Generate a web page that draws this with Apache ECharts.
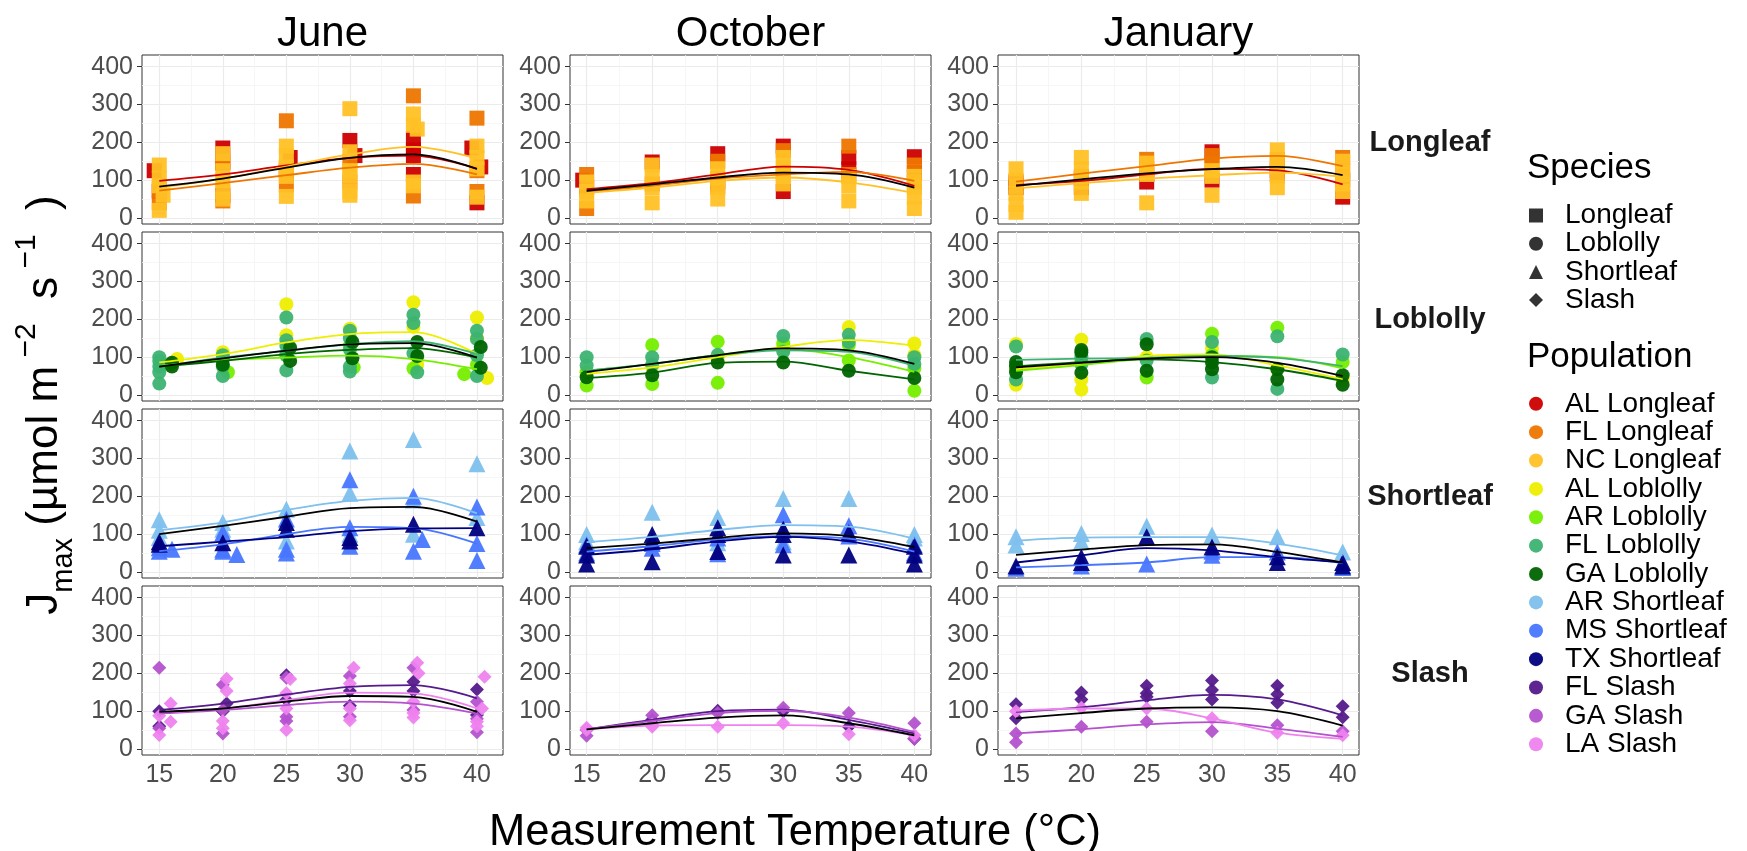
<!DOCTYPE html>
<html>
<head>
<meta charset="utf-8">
<title>Jmax by measurement temperature</title>
<script src="https://cdn.jsdelivr.net/npm/echarts@6.0.0/dist/echarts.min.js"></script>
<style>
  html, body { margin: 0; padding: 0; background: #fff; }
  #chart { width: 1747px; height: 851px; }
</style>
</head>
<body>
<div id="chart"></div>
<script>
const FONT = '"Liberation Sans", Arial, sans-serif';

// ---- data -------------------------------------------------------------
const temps = [15, 20, 25, 30, 35, 40];
const months = ['June', 'October', 'January'];
const species = ['Longleaf', 'Loblolly', 'Shortleaf', 'Slash'];
const yTicks = [0, 100, 200, 300, 400];

const longleafPops = ['AL Longleaf', 'FL Longleaf', 'NC Longleaf'];
const loblollyPops = ['AL Loblolly', 'AR Loblolly', 'FL Loblolly', 'GA Loblolly'];
const shortleafPops = ['AR Shortleaf', 'MS Shortleaf', 'TX Shortleaf'];
const slashPops = ['FL Slash', 'GA Slash', 'LA Slash'];

const longleafColors = ['#CD0000', '#EE7600', '#FFC125'];
const loblollyColors = ['#EEEE00', '#76EE00', '#3CB371', '#006400'];
const shortleafColors = ['#7EC0EE', '#4876FF', '#000080'];
const slashColors = ['#551A8B', '#B452CD', '#EE82EE'];

// points: [population index, temperature (jittered), Jmax]
const ptsJuneLongleaf = [
  [0,14.6,125],[0,15,70],[0,20,185],[0,20,145],[0,20,60],[0,25.3,160],[0,25,125],[0,30,205],[0,30.4,165],
  [0,35,210],[0,35,180],[0,35,165],[0,35,115],[0,39.6,185],[0,40.3,135],[0,40,40],
  [1,15,40],[1,15,75],[1,20,150],[1,20,45],[1,25,257],[1,25,87],[1,25,130],[1,30,95],[1,30,150],
  [1,35,323],[1,35,58],[1,40,264],[1,40,70],[1,40,125],
  [2,15,140],[2,15,105],[2,15.3,60],[2,15,20],[2,15,85],[2,20,170],[2,20,125],[2,20,100],[2,20,70],[2,20,50],
  [2,25,190],[2,25,165],[2,25,135],[2,25,110],[2,25,57],[2,30,289],[2,30,175],[2,30,125],[2,30,110],[2,30,70],[2,30,60],
  [2,35,275],[2,35,245],[2,35.3,235],[2,35,85],[2,35,95],[2,40,190],[2,40,160],[2,40,130],[2,40,55]
];
const ptsOctLongleaf = [
  [0,14.7,100],[0,15,80],[0,20,148],[0,25,170],[0,25,95],[0,30,190],[0,30,70],[0,35,160],[0,35,130],[0,40,162],[0,40,120],
  [1,15,115],[1,15,25],[1,20,90],[1,25,150],[1,25,85],[1,30,178],[1,30,120],[1,35,190],[1,35,115],[1,40,140],[1,40,95],
  [2,15,95],[2,15,70],[2,15,45],[2,20,140],[2,20,110],[2,20,80],[2,20,40],[2,25,130],[2,25,105],[2,25,80],[2,25,50],
  [2,30,160],[2,30,135],[2,30,110],[2,30,90],[2,35,110],[2,35,85],[2,35,45],[2,40,110],[2,40,80],[2,40,55],[2,40,25]
];
const ptsJanLongleaf = [
  [0,15,95],[0,15,80],[0,20,105],[0,20,80],[0,25,115],[0,25,95],[0,30,175],[0,30,100],[0,35,115],[0,35,125],[0,40,55],[0,40,100],
  [1,15,85],[1,20,110],[1,25,155],[1,25,130],[1,30,165],[1,30,145],[1,35,155],[1,35,140],[1,40,160],[1,40,125],
  [2,15,130],[2,15,100],[2,15,65],[2,15,35],[2,15,15],[2,20,160],[2,20,130],[2,20,95],[2,20,65],[2,25,145],[2,25,115],[2,25,40],
  [2,30,125],[2,30,110],[2,30,60],[2,35,180],[2,35,150],[2,35,110],[2,35,80],[2,40,150],[2,40,115],[2,40,90],[2,40,70]
];

const ptsJuneLoblolly = [
  [0,16.4,95],[0,20,113],[0,25,240],[0,25,158],[0,30,175],[0,35,245],[0,35,180],[0,35.3,80],[0,40,205],[0,40.8,45],[0,40,150],
  [1,15.8,80],[1,20.4,60],[1,25,105],[1,30.3,73],[1,30,130],[1,35,70],[1,39,55],[1,40,80],
  [2,15,100],[2,15,90],[2,15,75],[2,15,60],[2,15,30],[2,20,105],[2,20,95],[2,20,75],[2,20,50],
  [2,25,205],[2,25,145],[2,25,130],[2,25,105],[2,25,65],[2,30,170],[2,30,150],[2,30,120],[2,30,75],[2,30,62],
  [2,35,212],[2,35,190],[2,35,110],[2,35.3,60],[2,40,170],[2,40,148],[2,40,105],[2,40,50],
  [3,16,85],[3,16,75],[3,20,80],[3,25.3,125],[3,25.3,90],[3,30.2,140],[3,30.2,97],[3,35.3,140],[3,35.3,103],[3,40.3,127],[3,40.3,72]
];
const ptsOctLoblolly = [
  [0,15,60],[0,20,75],[0,25,100],[0,30,130],[0,35,180],[0,40,136],[0,40,106],
  [1,15,25],[1,15,60],[1,20,132],[1,20,29],[1,25,141],[1,25,32],[1,30,136],[1,30,120],[1,35,132],[1,35,91],[1,40,11],[1,40,70],
  [2,15,100],[2,15,78],[2,20,100],[2,20,80],[2,25,106],[2,30,156],[2,30,114],[2,35,159],[2,35,140],[2,40,100],[2,40,82],
  [3,15,47],[3,20,52],[3,25,86],[3,30,86],[3,35,64],[3,40,45]
];
const ptsJanLoblolly = [
  [0,15,135],[0,15,27],[0,20,146],[0,20,41],[0,20,14],[0,25,100],[0,30,123],[0,35,70],[0,40,41],
  [1,15,70],[1,20,90],[1,25,46],[1,30,162],[1,30,105],[1,35,178],[1,40,87],
  [2,15,128],[2,15,41],[2,20,100],[2,20,82],[2,25,148],[2,25,91],[2,30,140],[2,30,46],[2,35,155],[2,35,16],[2,40,107],
  [3,15,87],[3,15,76],[3,15,60],[3,20,119],[3,20,112],[3,20,59],[3,25,134],[3,25,64],[3,30,100],[3,30,68],[3,30,85],
  [3,35,68],[3,35,41],[3,40,52],[3,40,27]
];

const ptsJuneShortleaf = [
  [0,15,138],[0,15,91],[0,15,110],[0,20,131],[0,20,113],[0,25,166],[0,25,82],[0,30,320],[0,30,208],[0,30,100],
  [0,35,350],[0,35,100],[0,35,190],[0,40,286],[0,40,144],
  [1,15,64],[1,15,55],[1,16,60],[1,20,104],[1,20,55],[1,21.1,46],[1,20,60],[1,25,140],[1,25,60],[1,25,50],
  [1,30,244],[1,30,117],[1,30,68],[1,35,200],[1,35.7,86],[1,35,55],[1,40,172],[1,40,75],[1,40,30],
  [2,15,73],[2,15,80],[2,20,77],[2,25,113],[2,25,131],[2,30,91],[2,30,82],[2,35,126],[2,40,117]
];
const ptsOctShortleaf = [
  [0,15,99],[0,15,80],[0,20,158],[0,20,85],[0,25,144],[0,25,77],[0,30,194],[0,30,110],[0,30,80],[0,35,194],[0,40,99],[0,40,90],
  [1,15,72],[1,15,50],[1,20,63],[1,20,75],[1,25,90],[1,25,48],[1,30,151],[1,30,72],[1,35,122],[1,35,95],[1,40,72],[1,40,50],
  [2,15,68],[2,15,45],[2,15,21],[2,20,99],[2,20,81],[2,20,27],[2,25,117],[2,25,99],[2,25,54],[2,30,113],[2,30,99],[2,30,45],
  [2,35,104],[2,35,45],[2,40,68],[2,40,45],[2,40,21]
];
const ptsJanShortleaf = [
  [0,15,93],[0,15,71],[0,20,102],[0,20,80],[0,25,121],[0,30,98],[0,35,93],[0,40,53],
  [1,15,10],[1,20,16],[1,25,21],[1,30,44],[1,30,55],[1,35,53],[1,40,12],
  [2,15,16],[2,20,39],[2,20,25],[2,25,93],[2,30,66],[2,35,25],[2,35,40],[2,40,16],[2,40,25]
];

const ptsJuneSlash = [
  [0,15,100],[0,15,60],[0,20,100],[0,20.3,120],[0,25,195],[0,25,130],[0,30,153],[0,30,114],[0,35,178],[0,35,153],[0,40,157],[0,40,90],
  [1,15,215],[1,15,55],[1,20,170],[1,20,103],[1,20,41],[1,25,188],[1,25,85],[1,25,74],[1,30,193],[1,30,85],
  [1,35,215],[1,35,103],[1,40,125],[1,40,44],[1,40,80],
  [2,15,88],[2,15,37],[2,15.9,120],[2,15.9,72],[2,20.3,186],[2,20.3,153],[2,20,74],[2,20,55],[2,25.3,185],[2,25,147],[2,25,107],[2,25,50],
  [2,30.3,215],[2,30,173],[2,30,107],[2,30,76],[2,35.3,228],[2,35.4,200],[2,35,125],[2,35,83],[2,35,95],[2,40.6,191],[2,40.4,107],[2,40,72],[2,40,60]
];
const ptsOctSlash = [
  [0,15,50],[0,20,77],[0,25,101],[0,30,100],[0,35,59],[0,40,27],
  [1,15,35],[1,20,89],[1,25,95],[1,30,109],[1,35,95],[1,40,68],[1,40,27],
  [2,15,56],[2,15,50],[2,20,59],[2,20,65],[2,25,59],[2,30,68],[2,35,39],[2,40,36]
];
const ptsJanSlash = [
  [0,15,118],[0,15,81],[0,20,149],[0,20,131],[0,25,167],[0,25,147],[0,25,138],[0,30,181],[0,30,156],[0,30,131],
  [0,35,167],[0,35,145],[0,35,122],[0,40,113],[0,40,84],
  [1,15,41],[1,15,18],[1,20,59],[1,25,72],[1,30,47],[1,35,63],[1,40,47],
  [2,15,100],[2,20,109],[2,25,107],[2,30,81],[2,35,43],[2,40,36]
];

// smooth fits at 15..40 C, one row per population, last row = all populations (black)
const fitJuneLongleaf = [[98,115,139,159,165,130],[72,92,113,133,143,115],[80,104,136,168,188,157],[83,104,133,159,168,130]];
const fitOctLongleaf = [[76,92,115,136,127,85],[69,85,104,115,122,98],[66,80,98,107,94,66],[72,89,107,120,115,80]];
const fitJanLongleaf = [[87,98,115,130,126,89],[96,117,137,157,164,137],[78,92,104,113,120,109],[85,102,118,129,135,113]];

const fitJuneLoblolly = [[86,108,139,161,166,108],[77,92,99,104,95,68],[75,99,117,134,142,108],[75,90,108,119,124,99],[75,97,117,134,137,99]];
const fitOctLoblolly = [[56,73,100,127,145,130],[64,82,106,121,100,61],[64,82,105,118,114,77],[45,59,85,88,64,41],[61,82,105,123,118,82]];
const fitJanLoblolly = [[68,82,103,107,78,41],[64,79,96,103,100,70],[93,96,98,103,98,76],[76,87,94,87,68,37],[73,85,96,100,85,50]];

const fitJuneShortleaf = [[110,131,164,188,196,155],[55,73,100,119,116,75],[68,80,92,108,115,116],[100,122,146,169,172,133]];
const fitOctShortleaf = [[79,93,111,124,120,88],[54,68,86,95,88,54],[45,60,81,93,81,48],[63,75,90,102,95,66]];
const fitJanShortleaf = [[83,91,92,92,75,44],[12,18,25,39,39,23],[25,44,63,57,39,25],[45,59,71,73,53,25]];

const fitJuneSlash = [[103,120,144,164,169,134],[94,103,116,125,120,94],[97,107,129,149,147,107],[98,107,125,140,138,98]];
const fitOctSlash = [[52,77,100,104,77,41],[52,74,95,101,83,45],[52,62,63,63,59,36],[52,68,83,89,68,36]];
const fitJanSlash = [[98,110,129,143,131,89],[41,52,65,71,54,32],[101,107,107,81,43,27],[81,95,107,110,100,62]];

// ---- layout -----------------------------------------------------------
const speciesPops = [longleafPops, loblollyPops, shortleafPops, slashPops];
const speciesColors = [longleafColors, loblollyColors, shortleafColors, slashColors];
const speciesSymbols = ['rect', 'circle', 'triangle', 'diamond'];
const symbolSizes = [15, 14, 17, 14];
const panelPts = [
  [ptsJuneLongleaf, ptsOctLongleaf, ptsJanLongleaf],
  [ptsJuneLoblolly, ptsOctLoblolly, ptsJanLoblolly],
  [ptsJuneShortleaf, ptsOctShortleaf, ptsJanShortleaf],
  [ptsJuneSlash, ptsOctSlash, ptsJanSlash]
];
const panelFits = [
  [fitJuneLongleaf, fitOctLongleaf, fitJanLongleaf],
  [fitJuneLoblolly, fitOctLoblolly, fitJanLoblolly],
  [fitJuneShortleaf, fitOctShortleaf, fitJanShortleaf],
  [fitJuneSlash, fitOctSlash, fitJanSlash]
];

const colLeft = [142, 570, 998];
const rowTop = [55, 232, 409, 586];
const panelW = 361, panelH = 169;
const xRange = [[13.64, 42.05], [13.73, 41.27], [13.62, 41.25]];
const yMin = -16, yMax = 431;

const grids = [], xAxes = [], yAxes = [];
const gridSeries = [], pointSeries = [], lineSeries = [];

species.forEach((sp, r) => {
  months.forEach((m, c) => {
    const g = grids.length;
    const bottomRow = r === species.length - 1;
    grids.push({
      left: colLeft[c], top: rowTop[r], width: panelW, height: panelH,
      show: true, borderColor: '#333333', borderWidth: 1, backgroundColor: '#fff'
    });
    xAxes.push({
      type: 'value', gridIndex: g, min: xRange[c][0], max: xRange[c][1],
      axisLine: { show: false }, splitLine: { show: false },
      axisTick: { show: bottomRow, customValues: temps, length: 5, lineStyle: { color: '#333' } },
      axisLabel: { show: bottomRow, customValues: temps, fontSize: 25, color: '#4D4D4D', fontFamily: FONT, margin: 8 }
    });
    yAxes.push({
      type: 'value', gridIndex: g, min: yMin, max: yMax,
      axisLine: { show: false }, splitLine: { show: false },
      axisTick: { show: true, customValues: yTicks, length: 5, lineStyle: { color: '#333' } },
      axisLabel: { customValues: yTicks, fontSize: 25, color: '#4D4D4D', fontFamily: FONT, margin: 9 }
    });

    // ggplot-like major/minor grid
    const gl = [];
    yTicks.forEach(v => gl.push({ yAxis: v, lineStyle: { color: '#EBEBEB', width: 1.2 } }));
    [50, 150, 250, 350].forEach(v => gl.push({ yAxis: v, lineStyle: { color: '#F4F4F4', width: 0.8 } }));
    temps.forEach(v => gl.push({ xAxis: v, lineStyle: { color: '#EBEBEB', width: 1.2 } }));
    [17.5, 22.5, 27.5, 32.5, 37.5].forEach(v => gl.push({ xAxis: v, lineStyle: { color: '#F4F4F4', width: 0.8 } }));
    gridSeries.push({
      type: 'line', xAxisIndex: g, yAxisIndex: g, data: [], silent: true,
      markLine: { silent: true, z: 1, symbol: ['none', 'none'], label: { show: false },
        emphasis: { disabled: true }, lineStyle: { type: 'solid' }, data: gl }
    });

    const pops = speciesPops[r];
    const cols = speciesColors[r];
    const pts = panelPts[r][c];
    const fits = panelFits[r][c];
    pops.forEach((p, i) => {
      pointSeries.push({
        type: 'scatter', name: p, xAxisIndex: g, yAxisIndex: g, z: 3,
        symbol: speciesSymbols[r], symbolSize: symbolSizes[r],
        itemStyle: { color: cols[i], opacity: 0.95 },
        data: pts.filter(d => d[0] === i).map(d => [d[1], d[2]])
      });
      lineSeries.push({
        type: 'line', name: p + ' fit', xAxisIndex: g, yAxisIndex: g, z: 4,
        smooth: 0.35, showSymbol: false, silent: true,
        lineStyle: { color: cols[i], width: 1.8 },
        data: temps.map((t, k) => [t, fits[i][k]])
      });
    });
    lineSeries.push({
      type: 'line', name: sp + ' all', xAxisIndex: g, yAxisIndex: g, z: 5,
      smooth: 0.35, showSymbol: false, silent: true,
      lineStyle: { color: '#000', width: 1.8 },
      data: temps.map((t, k) => [t, fits[pops.length][k]])
    });
  });
});

// empty black series only used for the Species legend
const legendSeries = species.map((sp, i) => ({
  type: 'scatter', name: sp, xAxisIndex: 0, yAxisIndex: 0, data: [],
  symbol: speciesSymbols[i], itemStyle: { color: '#000' }
}));

const allPops = [].concat(longleafPops, loblollyPops, shortleafPops, slashPops);

const graphics = [];
months.forEach((m, c) => {
  graphics.push({ type: 'text', x: colLeft[c] + panelW / 2, y: 34,
    style: { text: m, fontSize: 42, fontFamily: FONT, fill: '#000', align: 'center', verticalAlign: 'middle' } });
});
species.forEach((sp, r) => {
  graphics.push({ type: 'text', x: 1430, y: rowTop[r] + panelH / 2 + 3,
    style: { text: sp, fontSize: 29, fontWeight: 'bold', fontFamily: FONT, fill: '#1A1A1A', align: 'center', verticalAlign: 'middle' } });
});
graphics.push({ type: 'text', x: 795, y: 833,
  style: { text: 'Measurement Temperature (°C)', fontSize: 43.5, fontFamily: FONT, fill: '#000', align: 'center', verticalAlign: 'middle' } });
graphics.push({ type: 'text', x: 45, y: 405, rotation: Math.PI / 2,
  style: {
    text: '{a|J}{b|max}{a| (µmol m}{c| −2}{a|  s}{c| −1}{a|  )}',
    fill: '#000', align: 'center', verticalAlign: 'middle',
    rich: {
      a: { fontSize: 44, fontFamily: FONT, lineHeight: 66 },
      b: { fontSize: 29, fontFamily: FONT, verticalAlign: 'bottom', lineHeight: 44 },
      c: { fontSize: 30, fontFamily: FONT, verticalAlign: 'top', lineHeight: 36 }
    }
  } });
graphics.push({ type: 'text', x: 1527, y: 168,
  style: { text: 'Species', fontSize: 35, fontFamily: FONT, fill: '#000', align: 'left', verticalAlign: 'middle' } });
graphics.push({ type: 'text', x: 1527, y: 357,
  style: { text: 'Population', fontSize: 35, fontFamily: FONT, fill: '#000', align: 'left', verticalAlign: 'middle' } });

const legendText = { fontSize: 28, lineHeight: 27, color: '#000', fontFamily: FONT, padding: [0, 0, 0, 17] };

const option = {
  animation: false,
  backgroundColor: '#fff',
  grid: grids,
  xAxis: xAxes,
  yAxis: yAxes,
  legend: [
    { orient: 'vertical', left: 1529, top: 201.5, padding: 0, itemGap: 0.2, itemWidth: 14, itemHeight: 14,
      selectedMode: false, textStyle: legendText,
      data: species.map((sp, i) => ({ name: sp, icon: speciesSymbols[i] })) },
    { orient: 'vertical', left: 1529, top: 389.8, padding: 0, itemGap: 0.37, itemWidth: 14, itemHeight: 14,
      selectedMode: false, textStyle: legendText,
      data: allPops.map(p => ({ name: p, icon: 'circle' })) }
  ],
  graphic: graphics,
  series: [].concat(gridSeries, pointSeries, lineSeries, legendSeries)
};

const chart = echarts.init(document.getElementById('chart'));
chart.setOption(option);
</script>
</body>
</html>
